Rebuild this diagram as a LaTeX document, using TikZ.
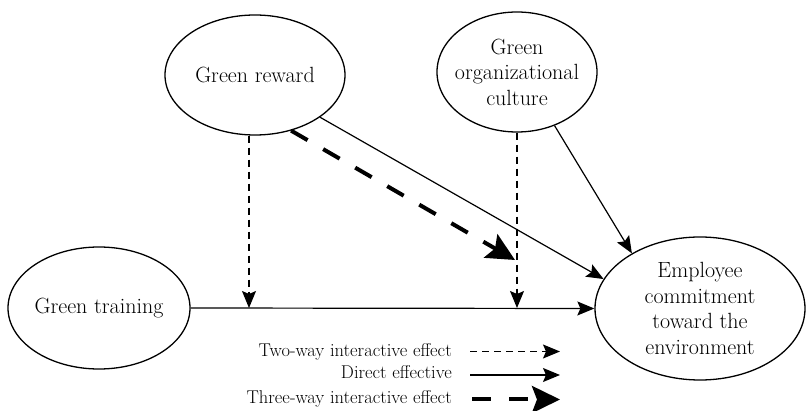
\documentclass[tikz,border=0pt]{standalone}
\usetikzlibrary{arrows.meta,shapes.geometric}
\begin{document}
\begin{tikzpicture}[x=1pt,y=-1pt,
  ell/.style={draw, ellipse, line width=1.3pt, inner sep=0pt, inner xsep=-22pt, align=center,
    font=\fontsize{22}{25.5}\selectfont},
  thinhead/.style={-{Stealth[length=17pt,width=14pt,inset=3pt]}},
  thickhead/.style={-{Stealth[length=28pt,width=27pt,inset=5pt]}},
  direct/.style={thinhead, line width=1.2pt},
  twoway/.style={thinhead, line width=1.2pt, dash pattern=on 7pt off 5pt},
  threeway/.style={thickhead, line width=4pt, dash pattern=on 19pt off 18pt},
  legtext/.style={anchor=base east, inner sep=0pt, font=\fontsize{18.5}{22}\selectfont}]
\useasboundingbox (0,0) rectangle (806,411);

\node[ell, minimum width=180pt, minimum height=120pt] (reward) at (255,75) {Green reward};
\node[ell, minimum width=160pt, minimum height=120pt] (culture) at (517,72) {Green\\organizational\\culture};
\node[ell, minimum width=182pt, minimum height=122pt] (training) at (99,308) {Green training};
\node[ell, minimum width=210pt, minimum height=143pt] (employee) at (700,308.5) {Employee\\commitment\\toward the\\environment};

\coordinate (t3) at (515,260);

% direct effects
\draw[direct] (training.east) -- (employee.west);
\draw[direct] (reward.-33.7) -- (employee.163.8);
\draw[direct] (culture.-55.6) -- (employee.141.1);

% two-way interactive effects
\draw[twoway] ([xshift=-6pt]reward.south) -- ([xshift=-6pt]reward.south |- training.east);
\draw[twoway] (culture.south) -- (culture.south |- training.east);

% three-way interactive effect
\draw[threeway] (reward.-57.5) -- (t3);

% legend
\node[legtext] (leg1) at (452,357) {Two-way interactive effect};
\node[legtext] (leg2) at (452,379) {Direct effective};
\node[legtext] (leg3) at (452,403) {Three-way interactive effect};
\coordinate (l1s) at (470,351.5);
\coordinate (l1e) at (560,351.5);
\coordinate (l2s) at (470,375);
\coordinate (l2e) at (560,375);
\coordinate (l3s) at (472,399.5);
\coordinate (l3e) at (560,399.5);
\draw[twoway] (l1s) -- (l1e);
\draw[direct] (l2s) -- (l2e);
\draw[threeway] (l3s) -- (l3e);
\end{tikzpicture}
\end{document}
